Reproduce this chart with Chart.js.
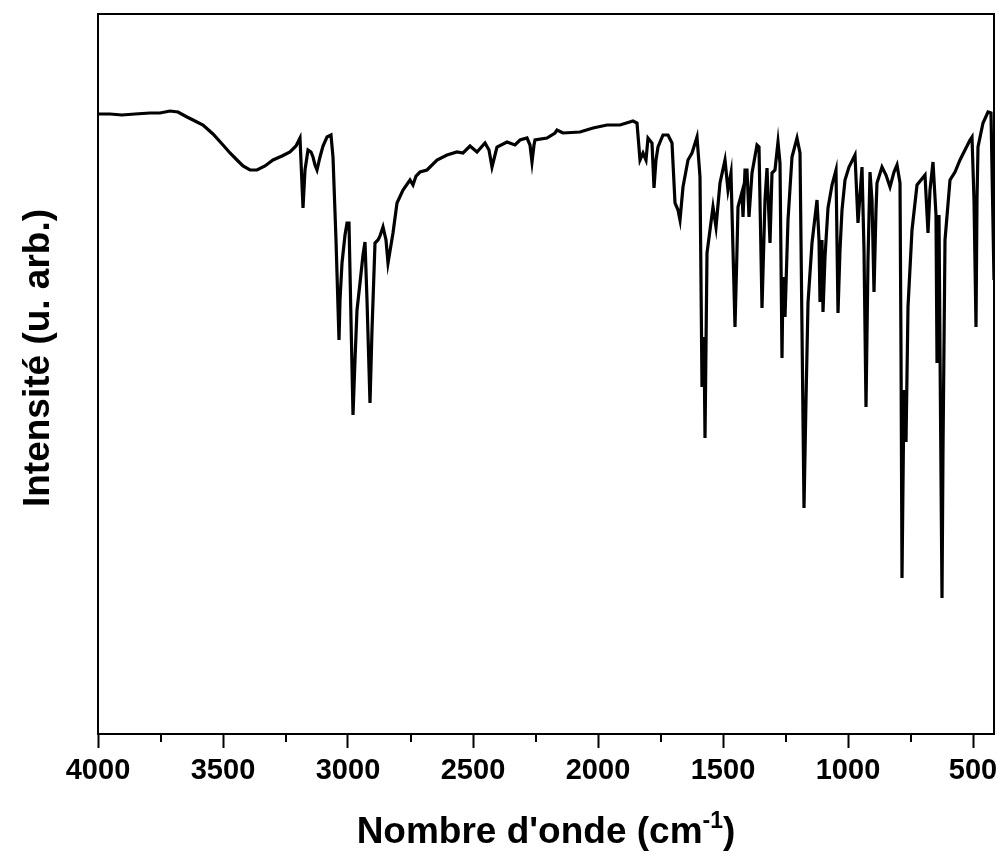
<!DOCTYPE html>
<html>
<head>
<meta charset="utf-8">
<script src="https://cdn.jsdelivr.net/npm/chart.js@4.4.0/dist/chart.umd.min.js"></script>
<style>
  html, body { margin: 0; padding: 0; background: #fff; }
  #wrap { width: 998px; height: 854px; }
</style>
</head>
<body>
<div id="wrap"><canvas id="ftir" width="998" height="854"></canvas></div>
<script>
"use strict";

// Wavenumber (cm-1) and intensity
const wavenumbers = [
  4000, 3952, 3904, 3852, 3792, 3752, 3712, 3680, 3644, 3612, 3580, 3540, 3500, 3472, 3444, 3420,
  3392, 3364, 3332, 3300, 3264, 3232, 3208, 3192, 3180, 3172, 3160, 3148, 3140, 3132, 3124, 3112,
  3100, 3084, 3068, 3060, 3048, 3036, 3032, 3024, 3012, 3004, 2996, 2988, 2980, 2972, 2964, 2952,
  2940, 2932, 2924, 2912, 2904, 2892, 2880, 2872, 2860, 2848, 2840, 2828, 2820, 2804, 2780, 2752,
  2740, 2728, 2712, 2684, 2644, 2604, 2564, 2540, 2512, 2484, 2452, 2436, 2424, 2412, 2404, 2364,
  2332, 2312, 2284, 2272, 2264, 2256, 2252, 2204, 2172, 2164, 2140, 2072, 2020, 1964, 1912, 1860,
  1844, 1832, 1820, 1808, 1800, 1784, 1776, 1768, 1760, 1740, 1720, 1704, 1692, 1680, 1672, 1660,
  1640, 1624, 1604, 1592, 1584, 1576, 1572, 1564, 1552, 1540, 1528, 1512, 1492, 1480, 1468, 1460,
  1452, 1444, 1440, 1424, 1420, 1412, 1404, 1396, 1384, 1364, 1356, 1344, 1332, 1324, 1312, 1304,
  1292, 1280, 1272, 1264, 1260, 1252, 1240, 1224, 1204, 1192, 1184, 1176, 1168, 1160, 1144, 1124,
  1116, 1112, 1104, 1100, 1092, 1080, 1064, 1048, 1040, 1032, 1024, 1012, 996, 972, 960, 944,
  936, 928, 920, 912, 904, 896, 888, 884, 864, 848, 832, 816, 804, 792, 788, 784,
  776, 768, 760, 744, 724, 692, 680, 672, 660, 648, 644, 636, 632, 624, 620, 612,
  592, 572, 552, 532, 512, 504, 496, 488, 484, 480, 460, 440, 428, 416
];

const intensity = [
  62.0, 62.0, 61.9, 62.0, 62.1, 62.1, 62.3, 62.2, 61.7, 61.3, 60.9, 60.0, 58.9, 58.1, 57.4, 56.8,
  56.4, 56.4, 56.8, 57.4, 57.8, 58.2, 58.8, 59.6, 52.6, 56.4, 58.4, 58.2, 57.7, 56.9, 56.4, 57.7,
  58.8, 59.7, 59.9, 57.7, 49.4, 39.4, 43.4, 47.1, 49.9, 51.1, 51.1, 41.4, 31.9, 37.4, 42.4, 45.1,
  47.9, 49.2, 43.4, 33.1, 40.4, 49.1, 49.4, 49.8, 50.7, 49.4, 47.1, 48.9, 50.1, 53.1, 54.4, 55.4,
  54.9, 55.8, 56.2, 56.4, 57.4, 57.9, 58.2, 58.1, 58.8, 58.2, 59.1, 58.4, 56.7, 57.9, 58.7, 59.2,
  58.9, 59.4, 59.6, 58.9, 57.2, 58.9, 59.4, 59.6, 60.1, 60.4, 60.1, 60.2, 60.6, 60.9, 60.9, 61.3,
  61.1, 57.4, 58.1, 57.4, 59.6, 59.1, 54.6, 57.4, 58.7, 59.9, 59.9, 59.1, 53.1, 52.4, 51.4, 54.7,
  57.4, 58.1, 59.7, 55.7, 34.7, 39.7, 29.6, 48.1, 50.4, 52.7, 50.7, 55.1, 57.4, 54.4, 56.1, 48.4,
  40.7, 48.4, 52.7, 54.2, 51.7, 56.4, 56.4, 51.7, 56.1, 58.9, 58.7, 42.6, 53.4, 56.6, 49.1, 56.1,
  56.4, 59.2, 57.1, 37.6, 45.7, 41.7, 51.4, 57.7, 59.6, 58.1, 40.4, 22.6, 33.4, 43.1, 49.1, 53.4,
  49.4, 43.2, 49.4, 42.2, 47.7, 52.6, 54.9, 56.4, 42.1, 48.4, 52.4, 55.4, 56.7, 57.9, 51.1, 56.7,
  48.4, 32.7, 47.4, 56.2, 53.4, 44.2, 52.4, 55.1, 56.7, 55.9, 54.7, 56.2, 56.9, 55.1, 38.4, 15.6,
  34.4, 29.2, 42.7, 50.4, 54.9, 55.9, 50.1, 54.4, 57.2, 51.9, 37.1, 51.9, 38.4, 13.6, 28.4, 49.4,
  55.4, 56.2, 57.4, 58.4, 59.4, 59.7, 53.4, 40.7, 53.4, 58.7, 61.1, 62.2, 62.1, 45.4
];

const xTicks = [4000, 3500, 3000, 2500, 2000, 1500, 1000, 500];
const xMinorTicks = [3750, 3250, 2750, 2250, 1750, 1250, 750];
const xRange = [416, 4000];
const yRange = [0, 72];

const yTitle = "Intensité (u. arb.)";
const xTitleMain = "Nombre d'onde (cm";
const xTitleSup = "-1";
const xTitleEnd = ")";

const FONT = "'Liberation Sans', Arial, Helvetica, sans-serif";
Chart.defaults.font.family = FONT;
Chart.defaults.color = "#000";

// Frame, minor ticks and axis titles (x title needs a superscript)
const decorPlugin = {
  id: "decor",
  afterDraw(chart) {
    const { ctx, chartArea: a, scales } = chart;
    const xs = scales.x;
    ctx.save();
    ctx.strokeStyle = "#000";
    ctx.lineWidth = 2;
    ctx.strokeRect(a.left, a.top, a.right - a.left, a.bottom - a.top);

    // minor ticks
    ctx.beginPath();
    xMinorTicks.forEach((v) => {
      const px = Math.round(xs.getPixelForValue(v));
      ctx.moveTo(px, a.bottom);
      ctx.lineTo(px, a.bottom + 8);
    });
    ctx.stroke();

    ctx.fillStyle = "#000";
    // y title
    ctx.font = `bold 37px ${FONT}`;
    ctx.textAlign = "center";
    ctx.textBaseline = "middle";
    ctx.save();
    ctx.translate(39, 358);
    ctx.rotate(-Math.PI / 2);
    ctx.fillText(yTitle, 0, 0);
    ctx.restore();

    // x title with superscript
    const big = `bold 37px ${FONT}`;
    const small = `bold 23px ${FONT}`;
    ctx.textAlign = "left";
    ctx.textBaseline = "alphabetic";
    ctx.font = big;
    const w1 = ctx.measureText(xTitleMain).width;
    const w3 = ctx.measureText(xTitleEnd).width;
    ctx.font = small;
    const w2 = ctx.measureText(xTitleSup).width;
    let x = (a.left + a.right) / 2 - (w1 + w2 + w3) / 2;
    const base = 843;
    ctx.font = big;
    ctx.fillText(xTitleMain, x, base);
    x += w1;
    ctx.font = small;
    ctx.fillText(xTitleSup, x, base - 15);
    x += w2;
    ctx.font = big;
    ctx.fillText(xTitleEnd, x, base);
    ctx.restore();
  }
};

new Chart(document.getElementById("ftir").getContext("2d"), {
  type: "line",
  data: {
    datasets: [{
      data: wavenumbers.map((w, i) => ({ x: w, y: intensity[i] })),
      borderColor: "#000",
      borderWidth: 3.2,
      pointRadius: 0,
      tension: 0,
      fill: false,
    }],
  },
  options: {
    responsive: false,
    animation: false,
    parsing: false,
    layout: { padding: { top: 14, right: 4, left: 0, bottom: 0 } },
    plugins: { legend: { display: false }, tooltip: { enabled: false } },
    scales: {
      x: {
        type: "linear",
        reverse: true,
        min: xRange[0],
        max: xRange[1],
        afterBuildTicks(scale) { scale.ticks = xTicks.map((v) => ({ value: v })); },
        afterFit(scale) {
          scale.height = 120;
          scale.paddingLeft = 0;
          scale.paddingRight = 0;
        },
        border: { display: false },
        grid: {
          display: true,
          drawOnChartArea: false,
          drawTicks: true,
          tickLength: 14,
          tickWidth: 2,
          tickColor: "#000",
        },
        ticks: {
          padding: 6,
          maxRotation: 0,
          autoSkip: false,
          color: "#000",
          font: { size: 29, weight: "bold" },
          callback: (v) => String(v),
        },
      },
      y: {
        type: "linear",
        min: yRange[0],
        max: yRange[1],
        afterFit(scale) { scale.width = 98; },
        border: { display: false },
        grid: { display: false },
        ticks: { display: false },
      },
    },
  },
  plugins: [decorPlugin],
});
</script>
</body>
</html>
